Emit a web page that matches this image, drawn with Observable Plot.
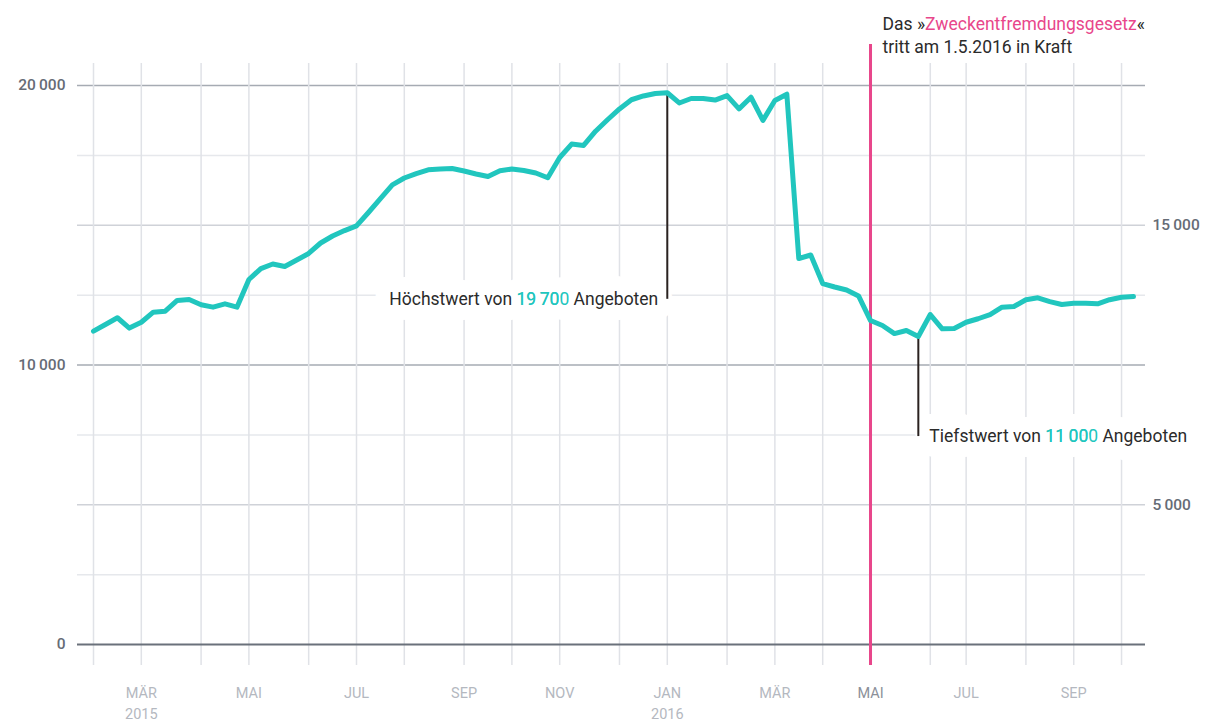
<!DOCTYPE html>
<html>
<head>
<meta charset="utf-8">
<script src="https://cdn.jsdelivr.net/npm/d3@7"></script>
<script src="https://cdn.jsdelivr.net/npm/@observablehq/plot@0.6"></script>
<style>
  body { margin: 0; background: #fff; }
</style>
</head>
<body>
<div id="chart"></div>
<script>
// Weekly dates (Sundays); the week of 2016-06-26 is missing in the source
const dates = [
  "2015-02-01","2015-02-08","2015-02-15","2015-02-22",
  "2015-03-01","2015-03-08","2015-03-15","2015-03-22","2015-03-29",
  "2015-04-05","2015-04-12","2015-04-19","2015-04-26",
  "2015-05-03","2015-05-10","2015-05-17","2015-05-24","2015-05-31",
  "2015-06-07","2015-06-14","2015-06-21","2015-06-28",
  "2015-07-05","2015-07-12","2015-07-19","2015-07-26",
  "2015-08-02","2015-08-09","2015-08-16","2015-08-23","2015-08-30",
  "2015-09-06","2015-09-13","2015-09-20","2015-09-27",
  "2015-10-04","2015-10-11","2015-10-18","2015-10-25",
  "2015-11-01","2015-11-08","2015-11-15","2015-11-22","2015-11-29",
  "2015-12-06","2015-12-13","2015-12-20","2015-12-27",
  "2016-01-03","2016-01-10","2016-01-17","2016-01-24","2016-01-31",
  "2016-02-07","2016-02-14","2016-02-21","2016-02-28",
  "2016-03-06","2016-03-13","2016-03-20","2016-03-27",
  "2016-04-03","2016-04-10","2016-04-17","2016-04-24",
  "2016-05-01","2016-05-08","2016-05-15","2016-05-22","2016-05-29",
  "2016-06-05","2016-06-12","2016-06-19",
  "2016-07-03","2016-07-10","2016-07-17","2016-07-24","2016-07-31",
  "2016-08-07","2016-08-14","2016-08-21","2016-08-28",
  "2016-09-04","2016-09-11","2016-09-18","2016-09-25",
  "2016-10-02","2016-10-09"
];

// Number of offers (Angebote)
const offers = [
  11210, 11450, 11690, 11320,
  11530, 11890, 11925, 12310, 12345,
  12155, 12070, 12190, 12070,
  13060, 13450, 13615, 13525, 13755,
  13990, 14365, 14615, 14810,
  14975, 15455, 15955, 16445,
  16690, 16850, 16985, 17010, 17030,
  16940, 16835, 16745, 16950,
  17010, 16960, 16870, 16700,
  17425, 17905, 17855, 18365, 18775,
  19160, 19490, 19625, 19715,
  19740, 19375, 19535, 19535, 19480,
  19640, 19165, 19580, 18750,
  19465, 19690, 13810, 13935,
  12915, 12790, 12685, 12470,
  11590, 11415, 11125, 11235, 11020,
  11805, 11295, 11305,
  11530, 11655, 11805, 12070, 12095,
  12335, 12405, 12270, 12165,
  12210, 12210, 12190, 12335,
  12425, 12450
];

const yMajorTicks = [10000, 20000];
const yMidTicks = [5000, 15000];
const yMinorTicks = [2500, 7500, 12500, 17500];
const yLeftLabels = [0, 10000, 20000];
const yRightLabels = [5000, 15000];

const monthAbbr = ["JAN","FEB","MÄR","APR","MAI","JUN","JUL","AUG","SEP","OKT","NOV","DEZ"];
const xLabelDates = ["2015-03-01","2015-05-03","2015-07-05","2015-09-06","2015-11-01",
                     "2016-01-03","2016-03-06","2016-05-01","2016-07-03","2016-09-04"];

const lawDate = "2016-05-01";
const lawTitle = "Das »Zweckentfremdungsgesetz«\ntritt am 1.5.2016 in Kraft";
const lawHighlight = "Zweckentfremdungsgesetz";

const peakNote = { date: "2016-01-03", value: 19740, labelValue: 12350, anchor: "end", dx: -9,
                   text: "Höchstwert von 19\u2009700 Angeboten", highlight: "19\u2009700" };
const lowNote  = { date: "2016-05-29", value: 11020, labelValue: 7440, anchor: "start", dx: 11,
                   text: "Tiefstwert von 11\u2009000 Angeboten", highlight: "11\u2009000" };
const notes = [peakNote, lowNote];

const series = dates.map((d, i) => ({ date: d, value: offers[i] }));
const monthStarts = dates.filter((d, i) => i === 0 || d.slice(0, 7) !== dates[i - 1].slice(0, 7));

const fmtNum = v => v === 0 ? "0" : d3.format(",")(v).replace(/,/g, "\u2009");
const fmtMonth = d => {
  const m = +d.slice(5, 7) - 1;
  const withYear = d === xLabelDates[0] || m === 0;
  return monthAbbr[m] + (withYear ? "\n" + d.slice(0, 4) : "");
};

const TEAL = "#21c6be";
const PINK = "#e8468b";
const INK = "#2b2b2b";
const hInset = { insetLeft: -16, insetRight: -12 };

const noteText = (n, extra) => Plot.text([n], {
  x: "date", y: "labelValue", text: "text", textAnchor: n.anchor, dx: n.dx, fontSize: 17.5, ...extra
});

const chart = Plot.plot({
  width: 1213,
  height: 722,
  marginLeft: 93,
  marginRight: 80,
  marginTop: 85,
  marginBottom: 78,
  style: { fontFamily: "Roboto, 'Noto Sans', sans-serif", background: "#fff", overflow: "visible" },
  x: { type: "point", domain: dates, padding: 0, axis: null },
  y: { domain: [0, 20000], axis: null },
  marks: [
    Plot.ruleY(yMinorTicks, { stroke: "#e6e8ec", strokeWidth: 1.5, ...hInset }),
    Plot.ruleY(yMidTicks, { stroke: "#cfd2d8", strokeWidth: 1.5, ...hInset }),
    Plot.ruleY(yMajorTicks, { stroke: "#a6abb3", strokeWidth: 1.5, ...hInset }),
    Plot.ruleX(monthStarts, { stroke: "#e0e2e7", strokeWidth: 1.5, insetTop: -22, insetBottom: -21 }),
    Plot.ruleY([0], { stroke: "#6a717b", strokeWidth: 2, ...hInset }),

    // white backgrounds behind annotation labels
    ...notes.map(n => noteText(n, { fill: "white", stroke: "white", strokeWidth: 30,
      strokeLinejoin: "round", ariaLabel: "halo" })),
    ...notes.map(n => noteText(n, { fill: INK, ariaLabel: "note" })),
    Plot.ruleX(notes, { x: "date", y1: "value", y2: "labelValue", stroke: "#2a2220", strokeWidth: 2 }),

    // law in force
    Plot.ruleX([lawDate], { x: d => d, stroke: PINK, strokeWidth: 3, insetTop: -41, insetBottom: -21 }),
    Plot.text([lawDate], { x: d => d, text: () => lawTitle, frameAnchor: "top", lineAnchor: "top",
      textAnchor: "start", dx: 12, dy: -73, fontSize: 17.5, lineHeight: 1.37, fill: INK, ariaLabel: "lawtitle" }),

    // data
    Plot.line(series, { x: "date", y: "value", stroke: TEAL, strokeWidth: 5,
      strokeLinejoin: "round", strokeLinecap: "round" }),

    // y labels
    Plot.text(yLeftLabels, { y: d => d, text: fmtNum, frameAnchor: "left", textAnchor: "end", dx: -28,
      fontSize: 15.5, fontWeight: 500, fill: "#666c76" }),
    Plot.text(yRightLabels, { y: d => d, text: fmtNum, frameAnchor: "right", textAnchor: "start", dx: 19,
      fontSize: 15.5, fontWeight: 500, fill: "#666c76" }),

    // x labels
    Plot.text(xLabelDates, { x: d => d, text: fmtMonth, frameAnchor: "bottom", lineAnchor: "top", dy: 39,
      fontSize: 14.5, lineHeight: 1.45, fill: d => d === lawDate ? "#8b9099" : "#b4b8c0", ariaLabel: "xlabels" })
  ]
});

// letter spacing for month labels
d3.select(chart).selectAll('g[aria-label="xlabels"] text').attr("letter-spacing", "1px");

// colour highlighted substrings (not in the white halo copies)
function highlight(svg, needle, color) {
  const nodes = [];
  d3.select(svg).selectAll("text, tspan").each(function () {
    if (this.closest('g[aria-label="halo"]')) return;
    if (this.childElementCount === 0 && this.textContent.includes(needle)) nodes.push(this);
  });
  nodes.forEach(node => {
    const full = node.textContent;
    const idx = full.indexOf(needle);
    const sel = d3.select(node);
    sel.text(null);
    sel.append("tspan").text(full.slice(0, idx));
    sel.append("tspan").attr("fill", color).text(needle);
    sel.append("tspan").text(full.slice(idx + needle.length));
  });
}
highlight(chart, peakNote.highlight, TEAL);
highlight(chart, lowNote.highlight, TEAL);
highlight(chart, lawHighlight, PINK);

document.getElementById("chart").appendChild(chart);
</script>
</body>
</html>
